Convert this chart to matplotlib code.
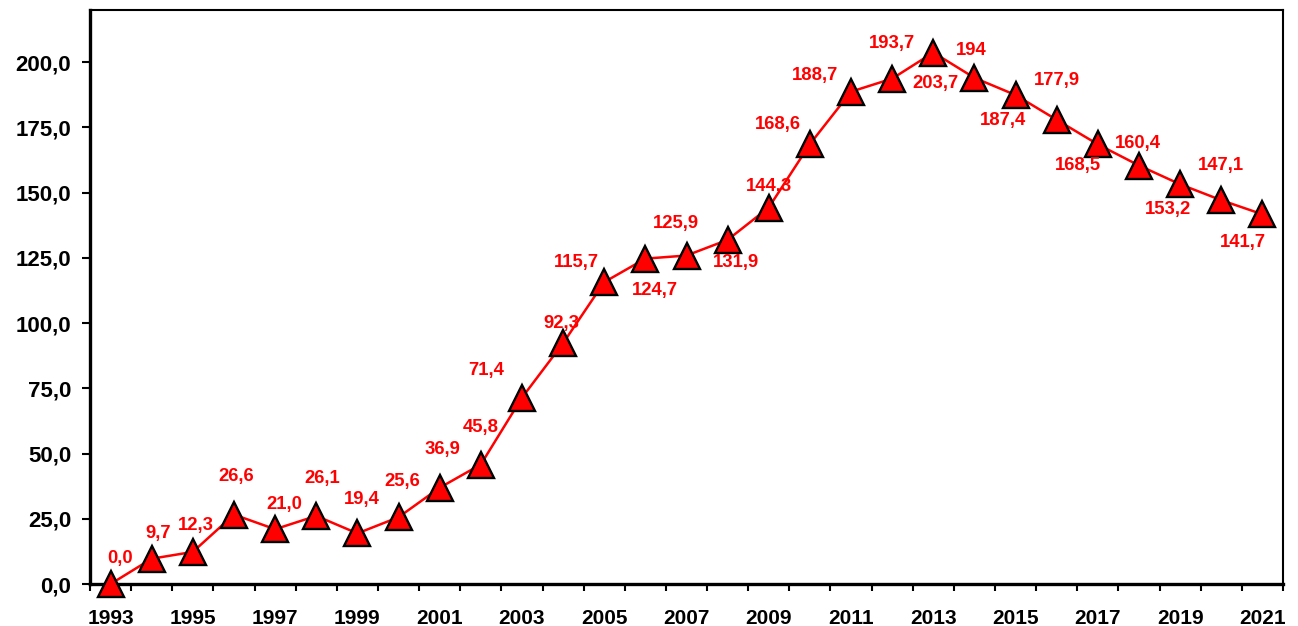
import numpy as np
import matplotlib
matplotlib.use("Agg")
from matplotlib import pyplot as plt
from matplotlib.ticker import FuncFormatter

plt.rcParams["font.family"] = ["Liberation Sans", "DejaVu Sans"]
plt.rcParams["font.weight"] = "bold"

years = list(range(1993, 2022))
values = [0.0, 9.7, 12.3, 26.6, 21.0, 26.1, 19.4, 25.6, 36.9, 45.8,
          71.4, 92.3, 115.7, 124.7, 125.9, 131.9, 144.3, 168.6, 188.7, 193.7,
          203.7, 194.0, 187.4, 177.9, 168.5, 160.4, 153.2, 147.1, 141.7]
labels = ["0,0", "9,7", "12,3", "26,6", "21,0", "26,1", "19,4", "25,6", "36,9", "45,8",
          "71,4", "92,3", "115,7", "124,7", "125,9", "131,9", "144,3", "168,6", "188,7", "193,7",
          "203,7", "194", "187,4", "177,9", "168,5", "160,4", "153,2", "147,1", "141,7"]

# label offsets from the marker, in pixels (x right, y up)
offsets = [(9, 25), (6, 25), (3, 26), (2, 38), (9, 25), (6, 37), (4, 34), (4, 36), (3, 38), (0, 37),
           (-36, 27), (-2, 20), (-28, 20), (10, -32), (-11, 32), (8, -23), (0, 21), (-32, 20), (-36, 16), (0, 35),
           (2, -31), (-3, 27), (-13, -25), (0, 39), (-20, -21), (-1, 22), (-12, -25), (0, 35), (-19, -28)]

fig = plt.figure(figsize=(12.98, 6.26), dpi=100)
ax = fig.add_axes([90 / 1298, 42 / 626, 1193 / 1298, 574 / 626])

x = np.arange(len(years))
ax.plot(x, values, color="red", linewidth=1.8, marker="^", markersize=19,
        markerfacecolor="red", markeredgecolor="black", markeredgewidth=1.7,
        clip_on=False, zorder=3)

for xi, v, lab, (dx, dy) in zip(x, values, labels, offsets):
    ax.annotate(lab, (xi, v), xytext=(dx * 0.72, dy * 0.72), textcoords="offset points",
                ha="center", va="center", color="red", fontsize=13.3, fontweight="bold",
                zorder=4)

ax.set_xlim(-0.5, len(years) - 0.5)
ax.set_ylim(0, 220)

ax.set_yticks(np.arange(0, 201, 25))
ax.yaxis.set_major_formatter(FuncFormatter(lambda v, p: f"{v:.1f}".replace(".", ",")))
ax.tick_params(axis="y", direction="out", length=5.5, width=1.5, labelsize=16, pad=8)

ax.set_xticks(np.arange(-0.5, len(years), 1.0))
ax.set_xticklabels([])
ax.set_xticks(x[::2], minor=True)
ax.set_xticklabels([str(y) for y in years[::2]], minor=True)
ax.tick_params(axis="x", which="major", direction="out", length=5, width=1.5)
ax.tick_params(axis="x", which="minor", length=0, labelsize=15, pad=18)

for name, sp in ax.spines.items():
    sp.set_linewidth(1.5)
ax.spines["left"].set_linewidth(2.4)
ax.spines["bottom"].set_linewidth(2.4)

for t in ax.get_xticklabels(minor=True) + ax.get_yticklabels():
    t.set_fontweight("bold")

fig.savefig("out.png", dpi=100)
